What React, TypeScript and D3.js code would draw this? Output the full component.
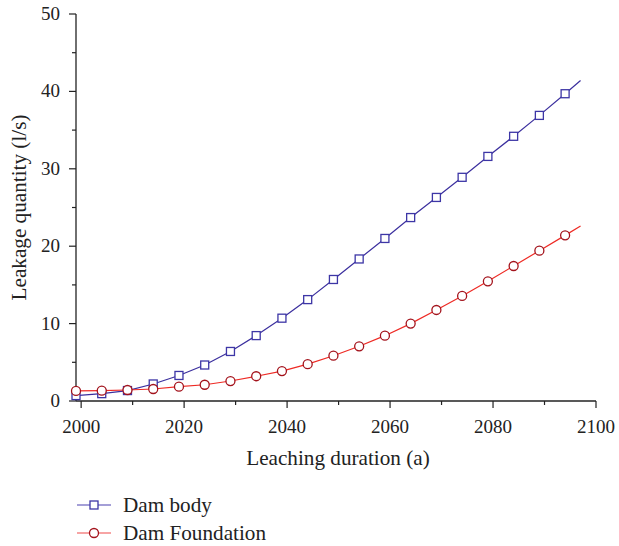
import React from "react";
import * as d3 from "d3";

// Leaching years sampled for both series (markers every 5 years, line extends to 2097)
const years = [1999, 2004, 2009, 2014, 2019, 2024, 2029, 2034, 2039, 2044, 2049, 2054, 2059, 2064, 2069, 2074, 2079, 2084, 2089, 2094, 2097];
const damBody = [0.7, 0.95, 1.35, 2.2, 3.3, 4.65, 6.4, 8.45, 10.7, 13.1, 15.7, 18.35, 21.0, 23.7, 26.3, 28.9, 31.6, 34.2, 36.9, 39.7, 41.4];
const damFoundation = [1.3, 1.33, 1.42, 1.55, 1.85, 2.1, 2.58, 3.2, 3.87, 4.76, 5.85, 7.07, 8.44, 10.0, 11.76, 13.57, 15.46, 17.44, 19.42, 21.4, 22.6];
const xTicks = [2000, 2020, 2040, 2060, 2080, 2100];
const xMinorTicks = [2010, 2030, 2050, 2070, 2090];
const yTicks = [0, 10, 20, 30, 40, 50];
const yMinorTicks = [5, 15, 25, 35, 45];
const seriesNames = ["Dam body", "Dam Foundation"];

const W = 619;
const H = 546;
const left = 76;
const right = 596;
const top = 14;
const bottom = 401;
const textStyle = { fontFamily: "'Liberation Serif', 'DejaVu Serif', serif" };
const tickSize = 19;
const titleSize = 21.2;

const blueLine = "#3b2f9e";
const blueMarker = "#3d36a6";
const redLine = "#ee2a24";
const redMarker = "#a3131c";

export default function App() {
  const x = d3.scaleLinear().domain([1999, 2100]).range([left, right]);
  const y = d3.scaleLinear().domain([0, 50]).range([bottom, top]);

  const bodyPts = years.map((yr, i) => [yr, damBody[i]] as [number, number]);
  const fndPts = years.map((yr, i) => [yr, damFoundation[i]] as [number, number]);
  const line = d3
    .line<[number, number]>()
    .x((d) => x(d[0]))
    .y((d) => y(d[1]));

  // markers are drawn at five-year points only (last sample is line end)
  const markerIdx = years.map((_, i) => i).filter((i) => i < years.length - 1);
  const sq = 8;
  const cr = 4.5;

  return (
    <svg
      width={W}
      height={H}
      style={{ position: "absolute", left: 0, top: 0, background: "#fff" }}
    >
      {/* axes */}
      <line x1={left} x2={right} y1={bottom} y2={bottom} stroke="#222" strokeWidth={1.3} />
      <line x1={left} x2={left} y1={top} y2={bottom} stroke="#222" strokeWidth={1.3} />
      {xTicks.map((t) => (
        <g key={"xt" + t}>
          <line x1={x(t)} x2={x(t)} y1={bottom} y2={bottom + 7} stroke="#222" strokeWidth={1.2} />
          <text x={x(t)} y={433} textAnchor="middle" fontSize={tickSize} fill="#222" style={textStyle}>
            {t}
          </text>
        </g>
      ))}
      {xMinorTicks.map((t) => (
        <line key={"xm" + t} x1={x(t)} x2={x(t)} y1={bottom} y2={bottom + 4} stroke="#222" strokeWidth={1.2} />
      ))}
      {yTicks.map((t) => (
        <g key={"yt" + t}>
          <line x1={left - 7} x2={left} y1={y(t)} y2={y(t)} stroke="#222" strokeWidth={1.2} />
          <text x={60} y={y(t) + 6} textAnchor="end" fontSize={tickSize} fill="#222" style={textStyle}>
            {t}
          </text>
        </g>
      ))}
      {yMinorTicks.map((t) => (
        <line key={"ym" + t} x1={left - 4} x2={left} y1={y(t)} y2={y(t)} stroke="#222" strokeWidth={1.2} />
      ))}

      {/* axis titles */}
      <text x={(left + right) / 2 + 2} y={465} textAnchor="middle" fontSize={titleSize} fill="#222" style={textStyle}>
        Leaching duration (a)
      </text>
      <text
        transform={`translate(26, ${(top + bottom) / 2}) rotate(-90)`}
        textAnchor="middle"
        fontSize={titleSize}
        fill="#222"
        style={textStyle}
      >
        Leakage quantity (l/s)
      </text>

      {/* series lines */}
      <path d={line(bodyPts) || ""} fill="none" stroke={blueLine} strokeWidth={1.2} />
      <path d={line(fndPts) || ""} fill="none" stroke={redLine} strokeWidth={1.2} />

      {/* markers */}
      {markerIdx.map((i) => (
        <rect
          key={"b" + i}
          x={x(years[i]) - sq / 2}
          y={y(damBody[i]) - sq / 2}
          width={sq}
          height={sq}
          fill="#fff"
          stroke={blueMarker}
          strokeWidth={1.3}
        />
      ))}
      {markerIdx.map((i) => (
        <circle
          key={"f" + i}
          cx={x(years[i])}
          cy={y(damFoundation[i])}
          r={cr}
          fill="#fff"
          stroke={redMarker}
          strokeWidth={1.3}
        />
      ))}

      {/* legend */}
      <g>
        <line x1={77} x2={111} y1={505} y2={505} stroke="#4a40b0" strokeWidth={1.2} />
        <rect x={94 - sq / 2} y={505 - sq / 2} width={sq} height={sq} fill="#fff" stroke={blueMarker} strokeWidth={1.3} />
        <text x={123} y={512} fontSize={titleSize} fill="#222" style={textStyle}>
          {seriesNames[0]}
        </text>
        <line x1={77} x2={111} y1={533} y2={533} stroke="#f04a4a" strokeWidth={1.2} />
        <circle cx={94} cy={533} r={cr} fill="#fff" stroke={redMarker} strokeWidth={1.3} />
        <text x={123} y={540} fontSize={titleSize} fill="#222" style={textStyle}>
          {seriesNames[1]}
        </text>
      </g>
    </svg>
  );
}
